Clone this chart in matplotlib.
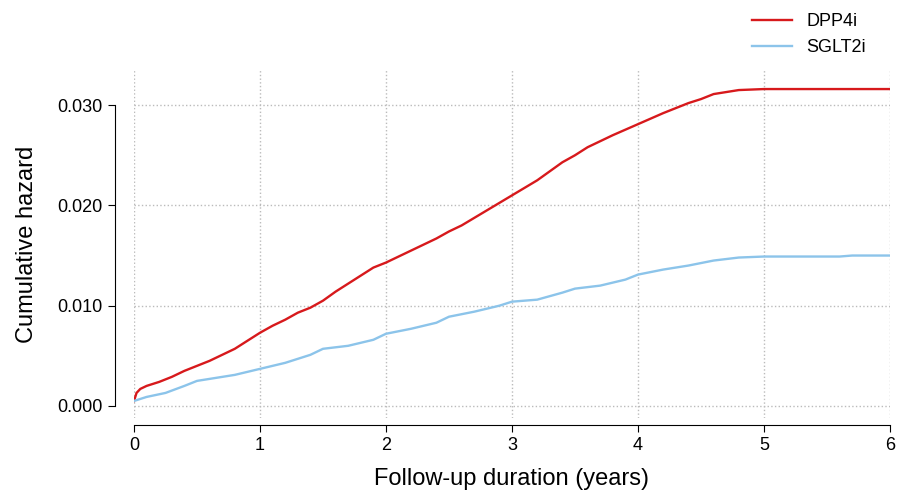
import matplotlib.pyplot as plt
import numpy as np

plt.rcParams['font.family'] = ['Liberation Sans', 'DejaVu Sans']

# Daten
t_dpp = [0, 0.02, 0.05, 0.1, 0.2, 0.3, 0.4, 0.5, 0.6, 0.7, 0.8, 0.9, 1.0, 1.1, 1.2, 1.3, 1.4, 1.5,
         1.6, 1.7, 1.8, 1.9, 2.0, 2.2, 2.4, 2.5, 2.6, 2.8, 3.0, 3.2, 3.4, 3.5, 3.6, 3.8, 4.0,
         4.2, 4.4, 4.5, 4.6, 4.8, 5.0, 5.5, 6.0]
h_dpp = [0.0005, 0.0013, 0.0017, 0.0020, 0.0024, 0.0029, 0.0035, 0.0040, 0.0045, 0.0051, 0.0057,
         0.0065, 0.0073, 0.0080, 0.0086, 0.0093, 0.0098, 0.0105, 0.0114, 0.0122, 0.0130, 0.0138,
         0.0143, 0.0155, 0.0167, 0.0174, 0.0180, 0.0195, 0.0210, 0.0225, 0.0243, 0.0250, 0.0258,
         0.0270, 0.0281, 0.0292, 0.0302, 0.0306, 0.0311, 0.0315, 0.0316, 0.0316, 0.0316]
t_sglt = [0, 0.05, 0.1, 0.25, 0.4, 0.5, 0.6, 0.8, 1.0, 1.2, 1.4, 1.5, 1.7, 1.9, 2.0, 2.2, 2.4,
          2.5, 2.7, 2.9, 3.0, 3.2, 3.4, 3.5, 3.7, 3.9, 4.0, 4.2, 4.4, 4.6, 4.8, 5.0, 5.6, 5.7, 6.0]
h_sglt = [0.0005, 0.0007, 0.0009, 0.0013, 0.0020, 0.0025, 0.0027, 0.0031, 0.0037, 0.0043, 0.0051,
          0.0057, 0.0060, 0.0066, 0.0072, 0.0077, 0.0083, 0.0089, 0.0094, 0.0100, 0.0104, 0.0106,
          0.0113, 0.0117, 0.0120, 0.0126, 0.0131, 0.0136, 0.0140, 0.0145, 0.0148, 0.0149, 0.0149,
          0.0150, 0.0150]

fig = plt.figure(figsize=(8.99, 4.94), dpi=100)
ax = fig.add_axes([134/899, 1 - 418/494, (890 - 134)/899, (418 - 70)/494])

ax.plot(t_dpp, h_dpp, color="#d7191c", lw=1.7, label="DPP4i")
ax.plot(t_sglt, h_sglt, color="#8cc4ea", lw=1.7, label="SGLT2i")

ax.set_xlim(0, 6)
ax.set_ylim(-0.0012, 0.0335)
ax.set_xticks(range(7))
ax.set_yticks([0, 0.01, 0.02, 0.03])
ax.set_yticklabels(["0.000", "0.010", "0.020", "0.030"])
ax.grid(True, color="#bbbbbb", ls=":", lw=1)

for s in ["top", "right"]:
    ax.spines[s].set_visible(False)
ax.spines["left"].set_position(("outward", 14))
ax.spines["bottom"].set_position(("outward", 5))
ax.spines["left"].set_bounds(0, 0.03)
ax.spines["bottom"].set_bounds(0, 6)
ax.tick_params(labelsize=13, length=5)

ax.set_xlabel("Follow-up duration (years)", fontsize=17, labelpad=10)
ax.set_ylabel("Cumulative hazard", fontsize=17, labelpad=14)

ax.legend(loc="upper right", bbox_to_anchor=(0.99, 1.21), frameon=False, fontsize=13,
          handlelength=2.2)

fig.savefig("out.png", dpi=100)
